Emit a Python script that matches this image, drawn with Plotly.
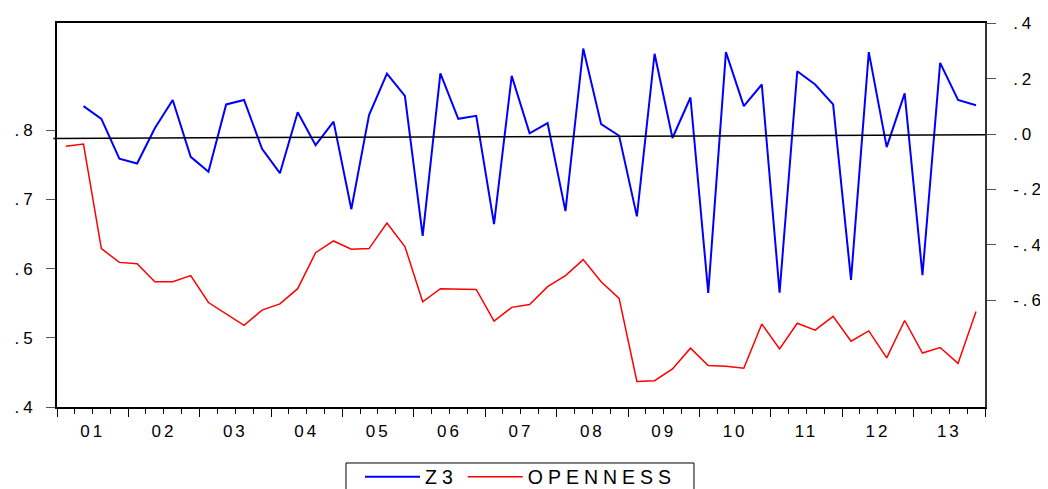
import pandas as pd
import plotly.graph_objects as go

# ---- data (quarterly, 2001Q1 - 2013Q4) ----
quarters = [str(p) for p in pd.period_range("2001Q1", "2013Q4", freq="Q")]

openness = [0.777, 0.780, 0.629, 0.609, 0.607, 0.581, 0.581, 0.590, 0.551, 0.534,
            0.518, 0.540, 0.549, 0.571, 0.623, 0.640, 0.628, 0.629, 0.666, 0.632,
            0.552, 0.571, 0.571, 0.570, 0.524, 0.544, 0.548, 0.574, 0.590, 0.613,
            0.581, 0.557, 0.437, 0.438, 0.455, 0.485, 0.460, 0.459, 0.456, 0.520,
            0.484, 0.521, 0.511, 0.531, 0.495, 0.510, 0.471, 0.525, 0.478, 0.486,
            0.463, 0.538]

z3 = [None, 0.101, 0.055, -0.089, -0.106, 0.021, 0.123, -0.082, -0.136, 0.107,
      0.123, -0.053, -0.141, 0.079, -0.040, 0.045, -0.271, 0.069, 0.218, 0.138,
      -0.367, 0.219, 0.055, 0.066, -0.325, 0.210, 0.003, 0.040, -0.278, 0.309,
      0.036, -0.006, -0.297, 0.290, -0.014, 0.132, -0.573, 0.296, 0.101, 0.179,
      -0.572, 0.227, 0.179, 0.107, -0.526, 0.296, -0.047, 0.147, -0.509, 0.257,
      0.123, 0.104]

left_ticks = [0.4, 0.5, 0.6, 0.7, 0.8]
left_labels = [".4", ".5", ".6", ".7", ".8"]
right_ticks = [0.4, 0.2, 0.0, -0.2, -0.4, -0.6]
right_labels = [".4", ".2", ".0", "-.2", "-.4", "-.6"]

# reference line drawn across the chart (Z3 scale, left end / right end)
ref_line = [-0.0155, -0.0025]

# ---- quarter mid-points as x positions ----
periods = pd.PeriodIndex(quarters, freq="Q")
x = [p.start_time + (p.end_time - p.start_time) / 2 for p in periods]

FONT = "Liberation Sans, Arial, sans-serif"


def spaced(s, px):
    return f"<span style='letter-spacing:{px}px'>{s}</span>"


fig = go.Figure()
fig.add_trace(go.Scatter(x=x, y=z3, name=spaced("Z3", 5), mode="lines",
                         line=dict(color="#0000FF", width=2), yaxis="y2"))
fig.add_trace(go.Scatter(x=x, y=openness, name=spaced("OPENNESS", 5), mode="lines",
                         line=dict(color="#FF0000", width=1.5), yaxis="y"))

fig.add_shape(type="line", xref="paper", yref="y2",
              x0=-0.004, x1=1.0, y0=ref_line[0], y1=ref_line[1],
              line=dict(color="black", width=1.5), layer="above")

# legend frame (open at the bottom edge of the picture, as in the original)
fig.add_shape(type="rect", xref="paper", yref="paper",
              x0=0.3114, x1=0.6864, y0=-0.1458, y1=-0.26,
              line=dict(color="black", width=1), fillcolor="rgba(0,0,0,0)",
              layer="above")

fig.update_layout(
    width=1040, height=481,
    paper_bgcolor="white", plot_bgcolor="white",
    margin=dict(l=49, r=63, t=15, b=82, autoexpand=False),
    font=dict(family=FONT, size=16, color="black"),
    showlegend=True,
    legend=dict(orientation="h", x=0.5, xanchor="center", y=-0.1315, yanchor="top",
                borderwidth=0, bgcolor="rgba(0,0,0,0)",
                font=dict(size=19.5, family=FONT), itemwidth=55,
                traceorder="normal"),
    xaxis=dict(type="date", range=["2001-01-01", "2014-01-01"],
               tickmode="linear", tick0="2001-01-01", dtick="M12",
               ticklabelmode="period", tickformat=spaced("%y", 3),
               ticks="outside", ticklen=8, tickwidth=1, tickcolor="black",
               minor=dict(dtick="M3", tick0="2001-01-01", ticks="outside",
                          ticklen=5, tickwidth=1, tickcolor="black"),
               showline=True, linecolor="black", linewidth=2, mirror=True,
               showgrid=False, zeroline=False,
               tickfont=dict(size=17, family=FONT)),
    yaxis=dict(range=[0.4, 0.955], tickmode="array", tickvals=left_ticks,
               ticktext=[spaced(t, 4) for t in left_labels],
               ticks="outside", ticklen=9, tickcolor="#555555",
               ticklabelstandoff=6,
               showline=True, linecolor="black", linewidth=2,
               showgrid=False, zeroline=False,
               tickfont=dict(size=17, family=FONT)),
    yaxis2=dict(range=[-0.985, 0.401], overlaying="y", side="right",
                tickmode="array", tickvals=right_ticks,
                ticktext=[spaced(t, 4) for t in right_labels],
                ticks="outside", ticklen=9, tickcolor="#555555",
                ticklabelstandoff=14,
                showline=True, linecolor="#333333", linewidth=1.5,
                showgrid=False, zeroline=False,
                tickfont=dict(size=17, family=FONT)),
)

fig.write_html("out.html")
